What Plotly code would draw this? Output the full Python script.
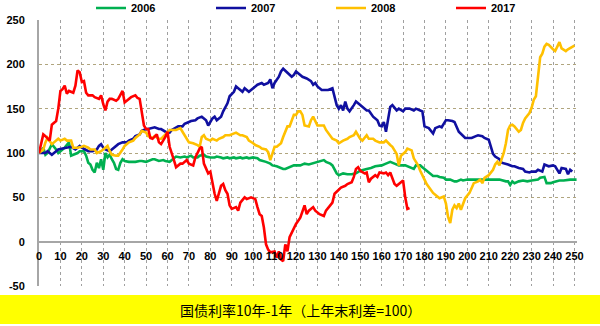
import plotly.graph_objects as go

# Trading-day index and spread index (10Y-1Y government bond spread, prior year-end = 100)
days_2006 = [0, 1, 2, 3, 4, 5, 6, 8, 9, 11, 12, 14, 15, 16, 18, 19, 21, 22, 23, 24, 25, 26, 27, 28, 29, 30,
             31, 32, 33, 34, 35, 36, 37, 38, 39, 40, 42, 44, 45, 47, 48, 50, 51, 53, 54, 56, 58, 59, 61, 63,
             64, 66, 68, 69, 71, 72, 74, 75, 77, 78, 80, 82, 83, 85, 86, 88, 89, 91, 92, 94, 95, 97, 98, 100,
             102, 103, 105, 106, 108, 109, 111, 112, 114, 115, 117, 119, 122, 124, 126, 129, 131, 133, 134,
             136, 137, 139, 140, 142, 144, 146, 148, 150, 153, 155, 157, 160, 162, 164, 166, 168, 171, 173,
             175, 176, 178, 179, 181, 183, 184, 186, 187, 189, 190, 192, 194, 195, 197, 198, 200, 202, 204,
             206, 208, 211, 213, 215, 218, 219, 220, 221, 222, 224, 226, 228, 230, 233, 234, 236, 237, 239,
             240, 242, 243, 245, 247, 248, 250, 251]
vals_2006 = [100, 102, 106, 98, 100, 106, 110, 104, 100, 104, 106, 112, 97, 98, 100, 102, 102, 97, 89, 87, 81,
             78, 89, 83, 93, 81, 100, 95, 98, 93, 89, 82, 81, 89, 93, 91, 90, 90, 90, 91, 91, 90, 91, 93, 93,
             91, 92, 91, 90, 94, 96, 95, 96, 95, 97, 95, 95, 97, 98, 96, 95, 95, 96, 95, 94, 95, 94, 95, 94,
             95, 94, 95, 94, 95, 94, 92, 91, 90, 88, 86, 85, 84, 82, 82, 84, 86, 86, 88, 87, 89, 90, 92, 90,
             88, 86, 77, 75, 77, 76, 76, 77, 80, 82, 83, 85, 86, 88, 90, 88, 86, 86, 84, 82, 86, 86, 84, 80,
             75, 74, 74, 73, 72, 70, 70, 68, 68, 70, 69, 70, 70, 70, 70, 70, 70, 70, 70, 68, 68, 64, 68, 66,
             68, 69, 68, 69, 70, 72, 73, 66, 66, 67, 68, 69, 69, 70, 70, 70, 70]

days_2007 = [0, 3, 4, 6, 7, 9, 11, 13, 15, 17, 19, 20, 23, 25, 27, 28, 29, 30, 31, 33, 34, 36, 37, 39, 41, 42,
             44, 45, 47, 48, 50, 51, 53, 54, 56, 57, 59, 61, 62, 64, 65, 67, 68, 70, 71, 73, 74, 76, 78, 79,
             81, 82, 83, 85, 86, 88, 89, 91, 92, 93, 95, 96, 98, 99, 101, 102, 104, 105, 107, 108, 109, 110,
             112, 113, 114, 116, 118, 119, 120, 122, 123, 125, 127, 128, 129, 130, 132, 134, 135, 137, 138,
             139, 140, 141, 142, 143, 144, 145, 147, 148, 150, 151, 153, 154, 156, 158, 159, 160, 161, 162,
             163, 164, 165, 167, 168, 170, 171, 173, 175, 176, 178, 179, 180, 182, 184, 185, 187, 188, 190,
             191, 193, 194, 196, 198, 199, 201, 202, 204, 205, 207, 208, 210, 212, 213, 215, 216, 218, 219,
             221, 222, 224, 226, 227, 229, 230, 232, 233, 235, 236, 238, 240, 241, 243, 244, 246, 247, 248, 249]
vals_2007 = [100, 100, 102, 98, 100, 104, 105, 106, 107, 104, 108, 106, 102, 102, 104, 108, 110, 106, 104, 102,
             104, 108, 110, 112, 112, 114, 116, 119, 121, 125, 127, 127, 128, 129, 127, 127, 124, 123, 126,
             129, 130, 130, 133, 135, 136, 137, 139, 141, 137, 131, 139, 141, 137, 141, 147, 156, 164, 169,
             175, 173, 169, 173, 169, 171, 175, 177, 179, 177, 179, 183, 173, 179, 186, 192, 195, 190, 186,
             188, 192, 188, 186, 184, 181, 177, 179, 175, 171, 171, 171, 173, 164, 154, 150, 154, 148, 158,
             150, 147, 154, 158, 154, 152, 148, 148, 141, 137, 131, 130, 135, 124, 139, 152, 154, 148, 150,
             147, 150, 150, 148, 150, 148, 147, 130, 128, 122, 128, 130, 129, 137, 137, 136, 135, 124, 120,
             117, 117, 117, 119, 120, 119, 117, 115, 99, 96, 93, 89, 88, 87, 85, 85, 83, 82, 79, 78, 79, 79,
             81, 79, 87, 85, 86, 85, 77, 83, 82, 76, 81, 79]

days_2008 = [0, 2, 3, 4, 6, 7, 9, 10, 12, 13, 15, 16, 18, 20, 21, 23, 24, 26, 27, 29, 30, 32, 33, 34, 36, 37,
             39, 40, 42, 44, 45, 47, 48, 50, 51, 53, 54, 56, 57, 59, 61, 64, 66, 67, 69, 70, 72, 74, 75, 76,
             77, 78, 80, 81, 83, 84, 86, 87, 89, 91, 92, 94, 95, 97, 98, 100, 101, 103, 104, 106, 107, 108,
             109, 110, 111, 113, 114, 116, 117, 118, 119, 120, 121, 122, 123, 124, 126, 127, 128, 130, 131,
             133, 134, 136, 137, 139, 140, 142, 144, 145, 147, 148, 150, 151, 153, 154, 156, 157, 159, 161,
             162, 164, 165, 167, 168, 169, 171, 172, 174, 175, 177, 178, 179, 180, 181, 183, 184, 186, 187,
             189, 190, 191, 192, 193, 194, 195, 196, 197, 198, 199, 201, 202, 203, 205, 206, 207, 208, 210,
             212, 213, 214, 215, 216, 217, 218, 219, 220, 221, 222, 224, 225, 226, 227, 229, 230, 231, 232,
             233, 234, 235, 236, 237, 238, 240, 241, 242, 243, 244, 246, 247, 249, 250]
vals_2008 = [100, 104, 112, 117, 110, 112, 116, 114, 116, 114, 114, 106, 106, 107, 108, 106, 104, 104, 100, 102,
             104, 108, 102, 98, 97, 97, 104, 108, 112, 114, 117, 121, 125, 123, 119, 117, 119, 116, 116, 121,
             126, 126, 128, 124, 116, 112, 111, 109, 107, 118, 120, 116, 114, 116, 114, 116, 118, 120, 120,
             122, 123, 120, 120, 118, 114, 111, 109, 107, 105, 104, 101, 92, 99, 107, 107, 111, 118, 130, 130,
             137, 143, 143, 147, 147, 143, 131, 130, 137, 141, 131, 131, 131, 126, 120, 116, 114, 111, 114,
             116, 118, 120, 124, 116, 114, 120, 116, 116, 114, 112, 112, 114, 109, 107, 99, 86, 97, 101, 105,
             103, 94, 86, 80, 74, 70, 65, 58, 55, 51, 49, 51, 43, 28, 21, 36, 41, 38, 43, 36, 43, 49, 55, 60,
             66, 68, 70, 66, 72, 75, 81, 87, 90, 86, 92, 100, 111, 126, 131, 132, 130, 124, 126, 134, 139, 145,
             151, 160, 164, 183, 208, 212, 220, 223, 222, 217, 215, 220, 225, 218, 215, 217, 220, 221]

days_2017 = [0, 2, 3, 5, 6, 8, 9, 10, 11, 12, 13, 14, 16, 17, 18, 19, 20, 21, 22, 23, 25, 26, 28, 29, 30, 31,
             32, 33, 34, 36, 37, 39, 40, 42, 43, 45, 46, 47, 48, 49, 50, 51, 52, 53, 55, 56, 57, 59, 60, 61,
             63, 64, 66, 67, 69, 70, 72, 73, 75, 76, 77, 79, 80, 81, 82, 83, 84, 85, 86, 87, 88, 89, 90, 92,
             93, 94, 96, 97, 99, 101, 102, 103, 104, 105, 106, 107, 108, 110, 111, 112, 113, 114, 115, 116,
             117, 118, 120, 122, 123, 124, 125, 126, 128, 129, 131, 133, 134, 136, 137, 138, 140, 141, 143,
             144, 146, 147, 148, 149, 150, 152, 153, 154, 155, 157, 158, 159, 161, 162, 163, 164, 166, 167,
             169, 170, 171, 172, 173]
vals_2017 = [100, 121, 119, 114, 132, 136, 150, 170, 172, 176, 167, 170, 168, 176, 193, 191, 180, 181, 168, 165,
             165, 163, 161, 165, 155, 148, 158, 161, 161, 159, 161, 170, 157, 161, 163, 165, 162, 161, 148, 131,
             127, 127, 117, 116, 121, 112, 110, 118, 124, 107, 92, 84, 88, 88, 92, 88, 86, 95, 105, 107, 88, 77,
             79, 65, 54, 46, 54, 63, 65, 58, 54, 41, 37, 39, 35, 44, 50, 48, 50, 48, 39, 31, 29, 16, -3, -9, -12,
             -11, -18, -11, -20, -22, -3, -11, 5, 10, 20, 27, 35, 41, 31, 35, 39, 35, 31, 29, 35, 41, 44, 54,
             58, 61, 63, 65, 67, 73, 82, 84, 80, 77, 78, 67, 71, 75, 73, 78, 77, 78, 75, 78, 65, 63, 67, 69,
             50, 37, 38]

series = [
    ("2006", days_2006, vals_2006, "#00b050"),
    ("2007", days_2007, vals_2007, "#1010a0"),
    ("2008", days_2008, vals_2008, "#ffc000"),
    ("2017", days_2017, vals_2017, "#ff0000"),
]

x_ticks = list(range(0, 251, 10))
y_ticks = list(range(-50, 251, 50))
caption = "国债利率10年-1年（上年末利差=100）"

W, H = 600, 326
ML, MR, MT, MB = 39, 23, 20, 40
plot_w = W - ML - MR
plot_h = H - MT - MB

fig = go.Figure()
for name, xs, ys, color in series:
    fig.add_trace(go.Scatter(x=xs, y=ys, mode="lines", name=name,
                             line=dict(color=color, width=2.6)))

tick_font = dict(family="Liberation Sans, Arial, sans-serif", size=11, color="#000000", weight="bold")

fig.update_layout(
    width=W, height=H,
    margin=dict(l=ML, r=MR, t=MT, b=MB, pad=0, autoexpand=False),
    paper_bgcolor="white", plot_bgcolor="white",
    showlegend=True,
    legend=dict(orientation="h", xref="container", yref="container",
                x=91 / W, xanchor="left", y=1 - 8 / H, yanchor="middle",
                font=tick_font, entrywidth=75, entrywidthmode="pixels",
                bgcolor="rgba(0,0,0,0)", itemwidth=30, tracegroupgap=0),
    xaxis=dict(range=[0, 251.2], tickvals=x_ticks, ticktext=[str(v) for v in x_ticks],
               showgrid=True, gridcolor="#a0a0a0", griddash="3px,3px", gridwidth=1,
               zeroline=False, showline=False, ticks="", tickangle=0, automargin=False,
               anchor="free", position=50 / 300, ticklabelstandoff=6,
               tickfont=tick_font, fixedrange=True),
    yaxis=dict(range=[-50, 250], tickvals=y_ticks, ticktext=[str(v) for v in y_ticks],
               showgrid=True, gridcolor="#b0a57e", griddash="3px,3px", gridwidth=1,
               zeroline=True, zerolinecolor="#a6a6a6", zerolinewidth=2,
               showline=True, linecolor="#a6a6a6", linewidth=2, automargin=False,
               ticks="", ticklabelstandoff=10, tickfont=tick_font, fixedrange=True),
)

# Caption band under the plot
fig.add_shape(type="rect", xref="paper", yref="paper",
              x0=-ML / plot_w, x1=(W - ML) / plot_w,
              y0=-(324 - (MT + plot_h)) / plot_h, y1=-(295 - (MT + plot_h)) / plot_h,
              fillcolor="#ffff00", line=dict(width=0), layer="below")
fig.add_annotation(text=caption, xref="paper", yref="paper",
                   x=(300 - ML) / plot_w, y=-(309.5 - (MT + plot_h)) / plot_h,
                   xanchor="center", yanchor="middle", showarrow=False,
                   font=dict(family="Noto Sans CJK SC", size=14, color="#000000"))

fig.write_html("out.html")
